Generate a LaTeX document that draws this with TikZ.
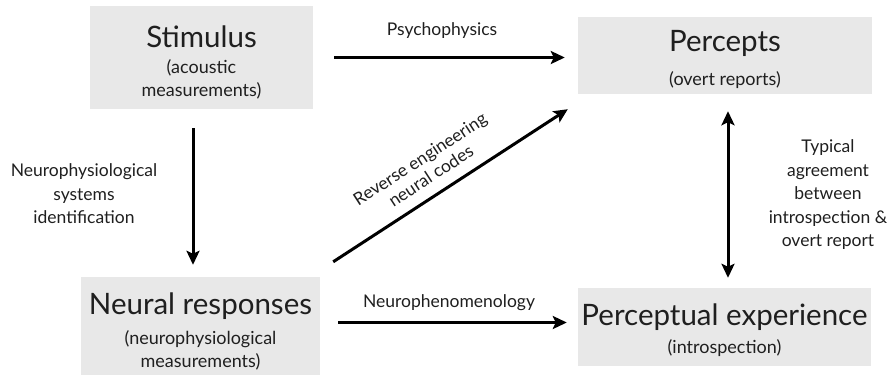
\documentclass[tikz,border=0pt]{standalone}
\usepackage{fontspec}
\setmainfont{Lato}
\usetikzlibrary{arrows.meta}

\begin{document}
\begin{tikzpicture}[x=1pt,y=-1pt,>={Stealth[length=14pt,width=13pt,inset=3pt]},
 every node/.style={text=black!88,inner sep=0pt},
 box/.style={fill=gray!18,draw=none},
 ttl/.style={font=\fontsize{29.5}{32}\selectfont},
 sub/.style={font=\fontsize{18}{23}\selectfont,align=center},
 lbl/.style={font=\fontsize{17.5}{23.5}\selectfont,align=center},
 arr/.style={line width=3pt,->}]
 \useasboundingbox (0,0) rectangle (895,376);
 % the four grey boxes
 \node[box,minimum width=223pt,minimum height=103pt] (stim) at (201.5,57.5) {};
 \node[box,minimum width=294pt,minimum height=77pt] (perc) at (725,55.5) {};
 \node[box,minimum width=239pt,minimum height=98pt] (neur) at (200.5,326) {};
 \node[box,minimum width=293pt,minimum height=78pt] (expr) at (724.5,327) {};
 \node[ttl] (stimt) at (201.5,37) {Stimulus};
 \node[sub] (stims) at (201.5,79) {(acoustic\\measurements)};
 \node[ttl] (perct) at (725,43) {Percepts};
 \node[sub] (percs) at (725,80) {(overt reports)};
 \node[ttl] (neurt) at (200.5,306) {Neural responses};
 \node[sub] (neurs) at (200.5,350) {(neurophysiological\\measurements)};
 \node[ttl] (exprt) at (724.5,317) {Perceptual experience};
 \node[sub] (exprs) at (724.5,348) {(introspection)};
 % arrows
 \draw[arr] ([xshift=21pt]stim.east) -- ([xshift=-13pt]stim.east -| perc.west);
 \draw[arr] ([shift={(18,-3.5)}]neur.east) -- ([shift={(-11,-3.5)}]neur.east -| expr.west);
 \draw[arr] ([shift={(-8.5,19)}]stim.south) -- ([shift={(-7.5,-12)}]neur.north);
 \draw[arr,<->] ([shift={(3,17)}]perc.south) -- ([shift={(3.5,-10)}]expr.north);
 \draw[arr] ([shift={(13,-15)}]neur.north east) -- ([shift={(-10,15)}]perc.south west)
   node[lbl,sloped,pos=.46,above=11pt,font=\fontsize{17.5}{20}\selectfont] (rev)
   {Reverse engineering\\neural codes};
 % labels
 \node[lbl] (psy) at (442,31) {Psychophysics};
 \node[lbl] (nphen) at (449,303) {Neurophenomenology};
 \node[lbl] (sysid) at (84,194) {Neurophysiological\\systems\\identification};
 \node[lbl] (agree) at (828,195) {Typical\\agreement\\between\\introspection \&\\overt report};
\end{tikzpicture}
\end{document}
